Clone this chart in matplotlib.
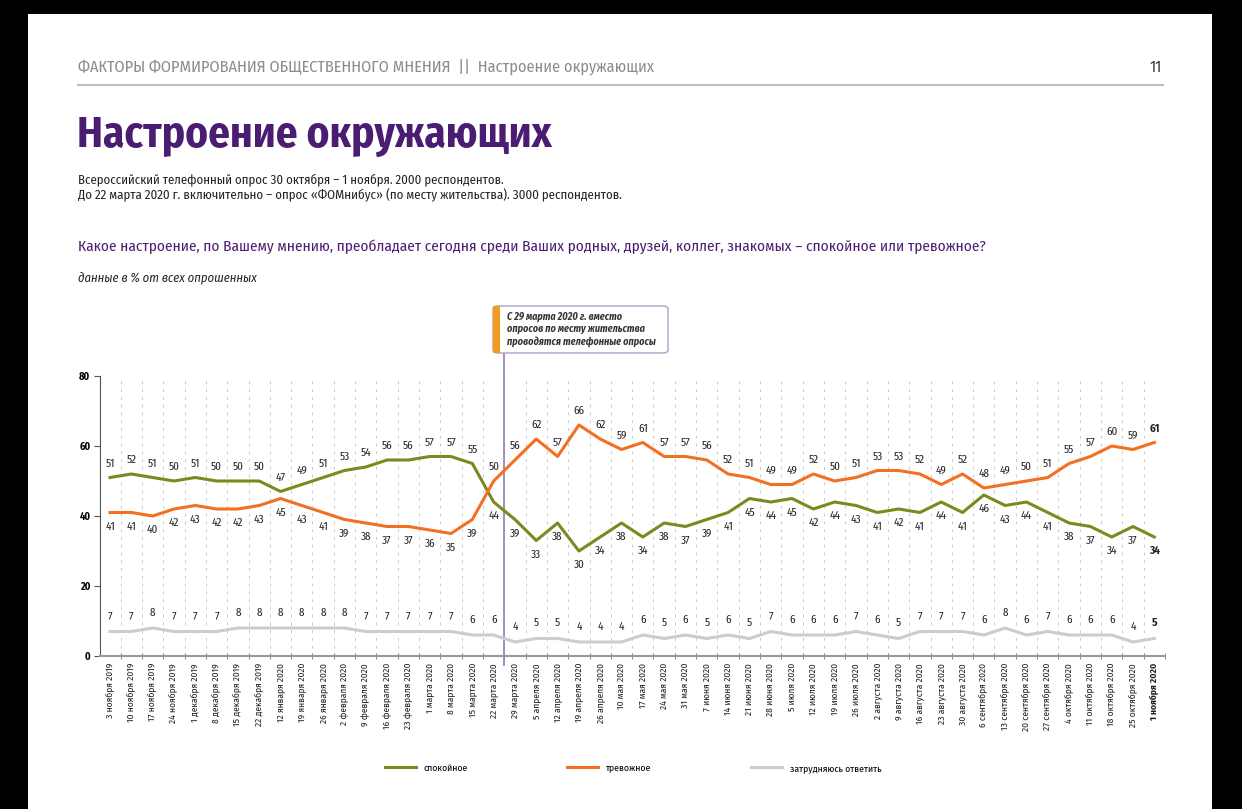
import numpy as np
import matplotlib
matplotlib.use("Agg")
import matplotlib.pyplot as plt
from matplotlib import font_manager
from matplotlib.patches import Rectangle, FancyBboxPatch
from matplotlib.lines import Line2D

# pick a narrow font if there is one
names = {f.name for f in font_manager.fontManager.ttflist}
NARROW = "DejaVu Sans"
for cand in ["Fira Sans Condensed", "Roboto Condensed", "Liberation Sans Narrow"]:
    if cand in names:
        NARROW = cand
        break

dates = ["3 ноября 2019", "10 ноября 2019", "17 ноября 2019", "24 ноября 2019",
         "1 декабря 2019", "8 декабря 2019", "15 декабря 2019", "22 декабря 2019",
         "12 января 2020", "19 января 2020", "26 января 2020", "2 февраля 2020",
         "9 февраля 2020", "16 февраля 2020", "23 февраля 2020", "1 марта 2020",
         "8 марта 2020", "15 марта 2020", "22 марта 2020", "29 марта 2020",
         "5 апреля 2020", "12 апреля 2020", "19 апреля 2020", "26 апреля 2020",
         "10 мая 2020", "17 мая 2020", "24 мая 2020", "31 мая 2020",
         "7 июня 2020", "14 июня 2020", "21 июня 2020", "28 июня 2020",
         "5 июля 2020", "12 июля 2020", "19 июля 2020", "26 июля 2020",
         "2 августа 2020", "9 августа 2020", "16 августа 2020", "23 августа 2020",
         "30 августа 2020", "6 сентября 2020", "13 сентября 2020", "20 сентября 2020",
         "27 сентября 2020", "4 октября 2020", "11 октября 2020", "18 октября 2020",
         "25 октября 2020", "1 ноября 2020"]

calm = [51, 52, 51, 50, 51, 50, 50, 50, 47, 49, 51, 53, 54, 56, 56, 57, 57, 55, 44,
        39, 33, 38, 30, 34, 38, 34, 38, 37, 39, 41, 45, 44, 45, 42, 44, 43, 41, 42,
        41, 44, 41, 46, 43, 44, 41, 38, 37, 34, 37, 34]
anxious = [41, 41, 40, 42, 43, 42, 42, 43, 45, 43, 41, 39, 38, 37, 37, 36, 35, 39, 50,
           56, 62, 57, 66, 62, 59, 61, 57, 57, 56, 52, 51, 49, 49, 52, 50, 51, 53, 53,
           52, 49, 52, 48, 49, 50, 51, 55, 57, 60, 59, 61]
hard = [7, 7, 8, 7, 7, 7, 8, 8, 8, 8, 8, 8, 7, 7, 7, 7, 7, 6, 6,
        4, 5, 5, 4, 4, 4, 6, 5, 6, 5, 6, 5, 7, 6, 6, 6, 7, 6, 5, 7, 7, 7, 6, 8,
        6, 7, 6, 6, 6, 4, 5]

C_CALM = "#7b8a1e"
C_ANX = "#f36f21"
C_HARD = "#cccccc"
PURPLE = "#4a1c72"

plt.rcParams["font.family"] = NARROW

W, H = 1242, 809
fig = plt.figure(figsize=(W / 100, H / 100), dpi=100)
fig.patch.set_facecolor("black")
# white page
fig.patches.append(Rectangle((28 / W, 0), (1212 - 28) / W, (H - 14) / H,
                             transform=fig.transFigure, facecolor="white",
                             edgecolor="none", zorder=-5))

def fx(px):
    return px / W

def fy(py):
    return 1 - py / H

# header
fig.text(fx(78), fy(67), "ФАКТОРЫ ФОРМИРОВАНИЯ ОБЩЕСТВЕННОГО МНЕНИЯ  ||  Настроение окружающих",
         fontsize=11.7, color="#8c8c8c", va="center", ha="left")
fig.text(fx(1162), fy(67), "11", fontsize=11.5, color="#333333",
         va="center", ha="right")
fig.add_artist(Line2D([fx(78), fx(1163)], [fy(85), fy(85)], color="#bdbdbd", lw=1.5))

fig.text(fx(77), fy(136), "Настроение окружающих", fontsize=31,
         fontweight="bold", color=PURPLE, va="center", ha="left")
fig.text(fx(78), fy(180), "Всероссийский телефонный опрос 30 октября – 1 ноября. 2000 респондентов.",
         fontsize=9.2, color="#222222", va="center")
fig.text(fx(78), fy(195), "До 22 марта 2020 г. включительно – опрос «ФОМнибус» (по месту жительства). 3000 респондентов.",
         fontsize=9.3, color="#222222", va="center")
fig.text(fx(78), fy(247), "Какое настроение, по Вашему мнению, преобладает сегодня среди Ваших родных, друзей, коллег, знакомых – спокойное или тревожное?",
         fontsize=11.05, color=PURPLE, va="center")
fig.text(fx(78), fy(278), "данные в % от всех опрошенных", fontsize=9.1,
         style="italic", color="#222222", va="center")

# chart area
ax = fig.add_axes([fx(100), fy(656), fx(1165) - fx(100), (656 - 376) / H])
ax.set_facecolor("none")
x = np.arange(len(dates))
l1, = ax.plot(x, calm, color=C_CALM, lw=2.2, label="спокойное", zorder=3)
l2, = ax.plot(x, anxious, color=C_ANX, lw=2.2, label="тревожное", zorder=3)
l3, = ax.plot(x, hard, color=C_HARD, lw=2.2, label="затрудняюсь ответить", zorder=3)

ax.set_xlim(-0.47, len(dates) - 0.53)
ax.set_ylim(0, 80)

# dashed grid between points
for b in np.arange(-0.5, len(dates), 1.0)[1:]:
    ax.plot([b, b], [0, 80], color="#c8c8c8", lw=0.7, ls=(0, (3, 5)), zorder=1)

last = len(dates) - 1
for i in x:
    wt = "bold" if i == last else "normal"
    if calm[i] >= anxious[i]:
        ca, aa = 10, -10
    else:
        ca, aa = -10, 10
    ax.annotate(str(calm[i]), (i, calm[i]), xytext=(0, ca), textcoords="offset points",
                ha="center", va="center", fontsize=8, color="#222222", fontweight=wt)
    ax.annotate(str(anxious[i]), (i, anxious[i]), xytext=(0, aa), textcoords="offset points",
                ha="center", va="center", fontsize=8, color="#222222", fontweight=wt)
    ax.annotate(str(hard[i]), (i, hard[i]), xytext=(0, 11), textcoords="offset points",
                ha="center", va="center", fontsize=8, color="#222222", fontweight=wt)

ax.set_xticks(x)
ax.set_xticklabels(dates, rotation=90, fontsize=6.8, color="#222222")
ax.get_xticklabels()[-1].set_fontweight("bold")
ax.tick_params(axis="x", length=0, pad=5)
ax.set_xticks(np.arange(-0.5, len(dates), 1.0)[1:], minor=True)
ax.tick_params(axis="x", which="minor", length=4, direction="inout", color="#777777")

ax.set_yticks([0, 20, 40, 60, 80])
ax.tick_params(axis="y", length=4, color="#555555", labelsize=7.5, pad=3)
for t in ax.get_yticklabels():
    t.set_fontweight("bold")
ax.spines["top"].set_visible(False)
ax.spines["right"].set_visible(False)
ax.spines["left"].set_color("#555555")
ax.spines["bottom"].set_color("#999999")
ax.spines["bottom"].set_linewidth(1.5)

# method change line and note
ax.plot([18.5, 18.5], [-2.5, 86.6], color="#8c80b4", lw=1.2, clip_on=False, zorder=2)
box_l, box_t, box_r, box_b = 493, 306, 668, 353
fig.patches.append(FancyBboxPatch((fx(box_l), fy(box_b)), fx(box_r - box_l), (box_b - box_t) / H,
                                  boxstyle="round,pad=0,rounding_size=0.004",
                                  transform=fig.transFigure, facecolor="white",
                                  edgecolor="#a9a2c4", lw=1.0, zorder=5))
fig.patches.append(Rectangle((fx(box_l), fy(box_b)), fx(7), (box_b - box_t) / H,
                             transform=fig.transFigure, facecolor="#f39b1e",
                             edgecolor="none", zorder=6))
fig.text(fx(507), fy(329), "С 29 марта 2020 г. вместо\nопросов по месту жительства\nпроводятся телефонные опросы",
         fontsize=7.3, style="italic", fontweight="bold", color="#333333",
         va="center", ha="left", linespacing=1.2, zorder=7)

fig.legend(handles=[l1, l2, l3], loc="center", bbox_to_anchor=(fx(633), fy(768)),
           ncol=3, frameon=False, handlelength=3.2, columnspacing=10.2,
           prop={"size": 7})

fig.savefig("out.png", dpi=100, facecolor=fig.get_facecolor())
